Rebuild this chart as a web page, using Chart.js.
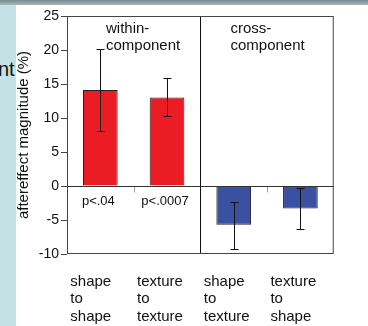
<!DOCTYPE html>
<html>
<head>
<meta charset="utf-8">
<script src="https://cdn.jsdelivr.net/npm/chart.js@4"></script>
<style>
html, body { margin: 0; padding: 0; background: #fff; }
#wrap { position: relative; width: 368px; height: 326px; overflow: hidden; background: #fff; }
#side { position: absolute; left: 0; top: 0; width: 16px; height: 326px; background: #c4e2e5; }
#topbar { position: absolute; left: 0; top: 0; width: 368px; height: 5px; background: linear-gradient(#778c8f, #a7b7b9); }
#nt { position: absolute; left: -2px; top: 58px; font: 20px "Liberation Sans", Arial, sans-serif; color: #111; }
canvas { position: absolute; left: 0; top: 0; }
</style>
</head>
<body>
<div id="wrap">
  <div id="side"></div>
  <div id="topbar"></div>
  <div id="nt">nt</div>
  <canvas id="chart" width="368" height="326"></canvas>
</div>
<script>
/* data */

let categories = [
    ["shape", "to", "shape"],
    ["texture", "to", "texture"],
    ["shape", "to", "texture"],
    ["texture", "to", "shape"]
];

let magnitude = [14.1, 13.0, -5.7, -3.3];
let errLow = [8.1, 10.3, -9.2, -6.3];
let errHigh = [20.2, 15.9, -2.3, -0.35];
let pLabels = ["p<.04", "p<.0007", "", ""];
let groupLabels = [["within-", "component"], ["cross-", "component"]];
let barColors = ["#ec1c24", "#ec1c24", "#3a51a1", "#3a51a1"];

const FONT = '"Liberation Sans", Arial, sans-serif';
Chart.defaults.font.family = FONT;
Chart.defaults.color = "#111";

/* frame, divider, zero line, error bars, texts */

const extras = {
    id: "extras",
    afterDatasetsDraw(chart)
    {
        const ctx = chart.ctx;
        const a = chart.chartArea;
        const x = chart.scales.x;
        const y = chart.scales.y;
        const bars = chart.getDatasetMeta(0).data;
        const y0 = Math.round(y.getPixelForValue(0)) + 0.5;

        ctx.save();
        ctx.lineWidth = 1;

        // small ticks under zero line
        ctx.strokeStyle = "#999";
        [0.5, 2.5].forEach(v => {
            const px = Math.round(x.getPixelForValue(v)) + 0.5;
            ctx.beginPath();
            ctx.moveTo(px, y0);
            ctx.lineTo(px, y0 + 6);
            ctx.stroke();
        });

        ctx.strokeStyle = "#333";
        // zero line
        ctx.beginPath();
        ctx.moveTo(a.left, y0);
        ctx.lineTo(a.right, y0);
        ctx.stroke();

        // group divider
        const xd = Math.round(x.getPixelForValue(1.5)) + 0.5;
        ctx.strokeStyle = "#111";
        ctx.beginPath();
        ctx.moveTo(xd, a.top);
        ctx.lineTo(xd, a.bottom);
        ctx.stroke();

        // frame
        ctx.strokeStyle = "#444";
        ctx.strokeRect(a.left + 0.5, a.top + 0.5, a.width - 1, a.height - 1);

        // error bars
        ctx.strokeStyle = "#111";
        bars.forEach((bar, i) => {
            const bx = Math.round(bar.x) + 0.5;
            const yl = Math.round(y.getPixelForValue(errLow[i])) + 0.5;
            const yh = Math.round(y.getPixelForValue(errHigh[i])) + 0.5;
            ctx.beginPath();
            ctx.moveTo(bx, yl);
            ctx.lineTo(bx, yh);
            ctx.moveTo(bx - 4, yl);
            ctx.lineTo(bx + 4, yl);
            ctx.moveTo(bx - 4, yh);
            ctx.lineTo(bx + 4, yh);
            ctx.stroke();
        });

        // p values
        ctx.fillStyle = "#111";
        ctx.font = "13px " + FONT;
        ctx.textAlign = "center";
        ctx.textBaseline = "alphabetic";
        bars.forEach((bar, i) => {
            if (pLabels[i]) ctx.fillText(pLabels[i], bar.x - 2, y0 + 18);
        });

        // group titles
        ctx.font = "15px " + FONT;
        ctx.textAlign = "left";
        const gx = [a.left + 39, xd + 30];
        groupLabels.forEach((lines, g) => {
            lines.forEach((t, k) => {
                ctx.fillText(t, gx[g], a.top + 16.5 + k * 17.5);
            });
        });

        ctx.restore();
    }
};

new Chart(
    document.getElementById("chart"),
    {
        type: "bar",
        data: {
            labels: categories,
            datasets: [
                {
                    data: magnitude,
                    backgroundColor: barColors,
                    borderColor: "#222",
                    borderWidth: 1,
                    barPercentage: 0.52,
                    categoryPercentage: 1
                }
            ]
        },
        options: {
            responsive: false,
            animation: false,
            layout: {
                padding: { left: 16, top: 16, right: 22, bottom: 0 }
            },
            plugins: {
                legend: { display: false },
                tooltip: { enabled: false }
            },
            scales: {
                x: {
                    afterFit: s => { s.height = 72; },
                    grid: { display: false, drawTicks: false },
                    border: { display: false },
                    ticks: {
                        autoSkip: false,
                        maxRotation: 0,
                        align: "start",
                        labelOffset: -30,
                        padding: 19,
                        color: "#111",
                        font: { size: 15, lineHeight: 1.17 }
                    }
                },
                y: {
                    min: -10,
                    max: 25,
                    afterFit: s => { s.width = 51; },
                    grid: {
                        display: true,
                        drawOnChartArea: false,
                        drawTicks: true,
                        tickLength: 6,
                        color: "#444"
                    },
                    border: { display: false },
                    ticks: {
                        stepSize: 5,
                        padding: 2,
                        color: "#111",
                        font: { size: 14 }
                    },
                    title: {
                        display: true,
                        text: "aftereffect magnitude (%)",
                        color: "#111",
                        padding: 0,
                        font: { size: 15, lineHeight: 1 }
                    }
                }
            }
        },
        plugins: [extras]
    }
);
</script>
</body>
</html>
